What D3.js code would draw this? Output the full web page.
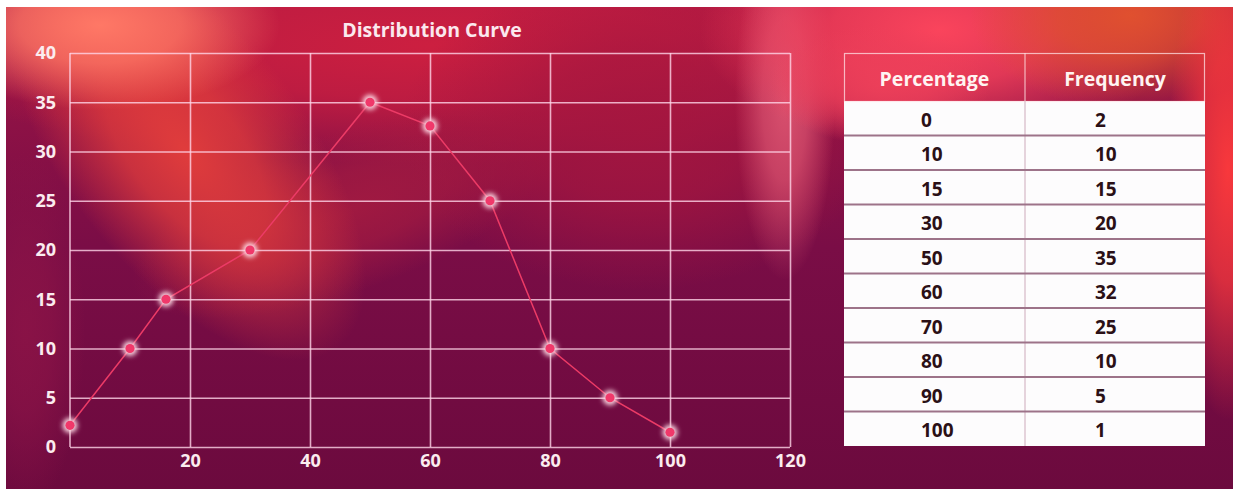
<!DOCTYPE html>
<html>
<head>
<meta charset="utf-8">
<script src="https://cdn.jsdelivr.net/npm/d3@7"></script>
<style>
  body { margin:0; background:#fff; }
  svg { display:block; font-family:"Open Sans", sans-serif; }
</style>
</head>
<body>
<div id="chart"></div>
<script>
// ---- chart data ----
var CURVE_X = [0, 10, 16, 30, 50, 60, 70, 80, 90, 100];
var CURVE_Y = [2.2, 10, 15, 20, 35, 32.6, 25, 10, 5, 1.5];

var X_TICKS = [20, 40, 60, 80, 100, 120];
var Y_TICKS = [0, 5, 10, 15, 20, 25, 30, 35, 40];

// ---- table data ----
var TABLE_HEAD = ["Percentage", "Frequency"];
var TABLE_PCT = ["0", "10", "15", "30", "50", "60", "70", "80", "90", "100"];
var TABLE_FREQ = ["2", "10", "15", "20", "35", "32", "25", "10", "5", "1"];

var W = 1233, H = 489;
var PLOT = {left:70, right:790, top:53, bottom:447};

var svg = d3.select("#chart").append("svg").attr("width", W).attr("height", H);
var defs = svg.append("defs");

// glow round the dots
defs.append("filter").attr("id","glow").attr("x","-100%").attr("y","-100%").attr("width","300%").attr("height","300%")
  .append("feGaussianBlur").attr("stdDeviation", 2.5);
defs.append("clipPath").attr("id","bgclip").append("rect")
  .attr("x",6).attr("y",7).attr("width",W-6).attr("height",H-7);

var baseGrad = defs.append("linearGradient").attr("id","base")
  .attr("x1","0").attr("y1","0").attr("x2","0").attr("y2","1");
baseGrad.append("stop").attr("offset","0").attr("stop-color","#9e1545");
baseGrad.append("stop").attr("offset","0.5").attr("stop-color","#7a0d46");
baseGrad.append("stop").attr("offset","1").attr("stop-color","#6c0a3e");

// ------------------------------- BACKGROUND ----------------------------------
var gBg = svg.append("g").attr("clip-path","url(#bgclip)");
gBg.append("rect").attr("x",6).attr("y",7).attr("width",W-6).attr("height",H-7).attr("fill","url(#base)");

// soft colour blobs: cx, cy, rx, ry, colour, opacity, rotation
var blobs = [
  [430, 45, 540, 120, "#cc1f40", 1, 0],
  [350, 210, 230, 80, "#a81c40", 0.8, -20],
  [640, 130, 240, 160, "#a5163f", 0.9, 0],
  [25, 330, 60, 180, "#8e1447", 0.8, 0],
  [185, 150, 120, 250, "#e03c3c", 1, -38],
  [100, 25, 180, 85, "#ff7866", 1, 0],
  [785, 100, 50, 180, "#d8506e", 1, 0],
  [940, 30, 240, 120, "#fa445c", 1, 0],
  [880, 85, 110, 60, "#ee405a", 0.9, 0],
  [1130, 15, 160, 95, "#e0502f", 1, 0],
  [1228, 170, 60, 250, "#f8383c", 1, 0]
];

blobs.forEach(function(b, i){
  var g = defs.append("radialGradient").attr("id","blob"+i);
  g.append("stop").attr("offset","0").attr("stop-color",b[4]).attr("stop-opacity",1);
  g.append("stop").attr("offset","0.45").attr("stop-color",b[4]).attr("stop-opacity",0.75);
  g.append("stop").attr("offset","1").attr("stop-color",b[4]).attr("stop-opacity",0);
});

gBg.selectAll("ellipse.blob").data(blobs).enter().append("ellipse")
  .attr("class","blob")
  .attr("cx", function(d){return d[0];}).attr("cy", function(d){return d[1];})
  .attr("rx", function(d){return d[2];}).attr("ry", function(d){return d[3];})
  .attr("fill", function(d,i){return "url(#blob"+i+")";}).attr("opacity", function(d){return d[5];})
  .attr("transform", function(d){return "rotate("+d[6]+","+d[0]+","+d[1]+")";});

// --------------------------------- CHART -------------------------------------
var x = d3.scaleLinear().domain([0, 120]).range([PLOT.left, PLOT.right]);
var y = d3.scaleLinear().domain([0, 40]).range([PLOT.bottom, PLOT.top]);

var gGrid = svg.append("g").attr("id","grid");
var gridColor = "rgba(255,214,232,0.8)";

function styleTicks(g){
  g.select(".domain").remove();
  g.selectAll(".tick line").attr("stroke",gridColor).attr("stroke-width",1.6);
  g.selectAll(".tick text").attr("fill","#fbecef").style("font-size","18px").style("font-weight","700")
    .style("font-family","'Open Sans', sans-serif");
}

gGrid.append("g")
  .attr("transform","translate("+PLOT.left+",0)")
  .call(d3.axisLeft(y).tickValues(Y_TICKS).tickSize(-(PLOT.right-PLOT.left)).tickFormat(d3.format("d")).tickPadding(14))
  .call(styleTicks);

gGrid.append("g")
  .attr("transform","translate(0,"+PLOT.bottom+")")
  .call(d3.axisBottom(x).tickValues(X_TICKS).tickSize(-(PLOT.bottom-PLOT.top)).tickFormat(d3.format("d")).tickPadding(7))
  .call(styleTicks);

// left edge of the plot
gGrid.append("line").attr("x1",x(0)).attr("x2",x(0)).attr("y1",y(40)).attr("y2",y(0))
  .attr("stroke",gridColor).attr("stroke-width",1.6);

svg.append("text").text("Distribution Curve")
  .attr("x",432).attr("y",37).attr("text-anchor","middle")
  .attr("fill","#fbe8ee").style("font-size","19.5px").style("font-weight","700");

var pts = CURVE_X.map(function(v,i){ return {x:v, y:CURVE_Y[i]}; });

svg.append("path").datum(pts)
  .attr("d", d3.line().x(function(d){return x(d.x);}).y(function(d){return y(d.y);}))
  .attr("fill","none").attr("stroke","#ec3b66").attr("stroke-width",1.5);

var gDots = svg.append("g").attr("id","dots");
gDots.selectAll("circle.halo").data(pts).enter().append("circle").attr("class","halo")
  .attr("cx",function(d){return x(d.x);}).attr("cy",function(d){return y(d.y);})
  .attr("r",7.5).attr("fill","#ffd9e4").attr("filter","url(#glow)");
gDots.selectAll("circle.dot").data(pts).enter().append("circle").attr("class","dot")
  .attr("cx",function(d){return x(d.x);}).attr("cy",function(d){return y(d.y);})
  .attr("r",4.6).attr("fill","#f0386a");

// --------------------------------- TABLE -------------------------------------
var T = {left:844, right:1205, top:53, head:101, bottom:446};
var colDiv = 1025;
var row = d3.scaleBand().domain(d3.range(TABLE_PCT.length)).range([T.head, T.bottom]);

var gTable = svg.append("g").attr("id","table");

gTable.append("rect").attr("x",T.left).attr("y",T.head)
  .attr("width",T.right-T.left).attr("height",T.bottom-T.head).attr("fill","#fdfcfd");

// header frame
gTable.append("rect").attr("x",T.left+0.5).attr("y",T.top+0.5)
  .attr("width",T.right-T.left-1).attr("height",T.head-T.top)
  .attr("fill","none").attr("stroke","rgba(255,225,230,0.75)").attr("stroke-width",1.2);
gTable.append("line").attr("x1",colDiv).attr("x2",colDiv).attr("y1",T.top).attr("y2",T.head)
  .attr("stroke","rgba(255,225,230,0.75)").attr("stroke-width",1.2);
gTable.append("line").attr("x1",colDiv).attr("x2",colDiv).attr("y1",T.head).attr("y2",T.bottom)
  .attr("stroke","#dcc6d0").attr("stroke-width",1.5);

var headX = [(T.left+colDiv)/2, (colDiv+T.right)/2];
gTable.selectAll("text.head").data(TABLE_HEAD).enter().append("text").attr("class","head")
  .text(function(d){return d;})
  .attr("x",function(d,i){return headX[i];}).attr("y",(T.top+T.head)/2+2)
  .attr("dy","0.35em").attr("text-anchor","middle")
  .attr("fill","#fff4f2").style("font-size","19.5px").style("font-weight","700");

// row separators
gTable.selectAll("line.sep").data(d3.range(1, TABLE_PCT.length)).enter().append("line").attr("class","sep")
  .attr("x1",T.left).attr("x2",T.right)
  .attr("y1",function(d){return row(d);}).attr("y2",function(d){return row(d);})
  .attr("stroke","#9d7389").attr("stroke-width",2);

var cellX = [921, 1095];
[TABLE_PCT, TABLE_FREQ].forEach(function(list, c){
  gTable.selectAll("text.c"+c).data(list).enter().append("text").attr("class","c"+c)
    .text(function(d){return d;})
    .attr("x",cellX[c]).attr("y",function(d,i){return row(i)+row.bandwidth()/2+2;})
    .attr("dy","0.35em").attr("text-anchor","start")
    .attr("fill","#2b1016").style("font-size","19px").style("font-weight","700");
});
</script>
</body>
</html>
